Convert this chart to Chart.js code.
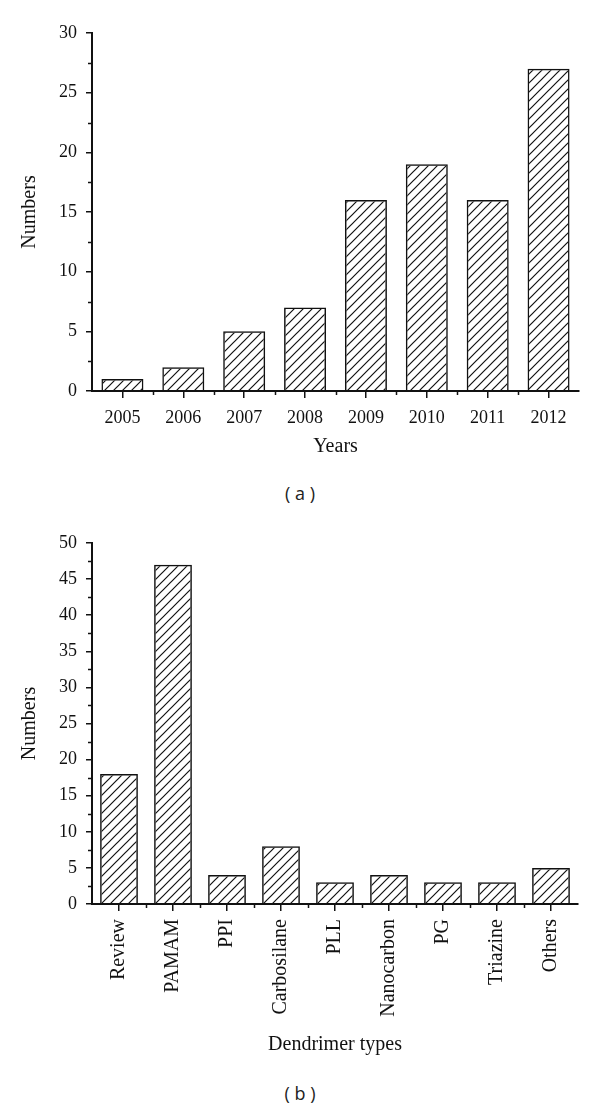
<!DOCTYPE html>
<html>
<head>
<meta charset="utf-8">
<script src="https://cdn.jsdelivr.net/npm/chart.js@4/dist/chart.umd.min.js"></script>
<style>
  html, body { margin: 0; padding: 0; background: #fff; }
  body { width: 600px; height: 1108px; position: relative; overflow: hidden; }
  .wrap { position: absolute; left: 0; width: 600px; }
  .cap { position: absolute; left: 0; width: 600px; text-align: center; font-family: "Open Sans", "DejaVu Sans", sans-serif; font-size: 18px; color: #222; }
</style>
</head>
<body>
<div class="wrap" style="top:0;height:470px"><canvas id="ca"></canvas></div>
<div class="cap" style="top:481px">( a )</div>
<div class="wrap" style="top:510px;height:560px"><canvas id="cb"></canvas></div>
<div class="cap" style="top:1081px">( b )</div>
<script>
// ---- data ----
const yearLabels = ["2005", "2006", "2007", "2008", "2009", "2010", "2011", "2012"];
const yearCounts = [1, 2, 5, 7, 16, 19, 16, 27];
const typeLabels = ["Review", "PAMAM", "PPI", "Carbosilane", "PLL", "Nanocarbon", "PG", "Triazine", "Others"];
const typeCounts = [18, 47, 4, 8, 3, 4, 3, 3, 5];
const yTicksA = { min: 0, max: 30, step: 5, minor: 2.5 };
const yTicksB = { min: 0, max: 50, step: 5, minor: 2.5 };

const SERIF = '"Liberation Serif", "DejaVu Serif", serif';

function hatch() {
  const s = 9;
  const c = document.createElement('canvas');
  c.width = s; c.height = s;
  const g = c.getContext('2d');
  g.strokeStyle = '#111';
  g.lineWidth = 1.2;
  g.beginPath();
  g.moveTo(-1, s + 1); g.lineTo(s + 1, -1);
  g.moveTo(-1, 1); g.lineTo(1, -1);
  g.moveTo(s - 1, s + 1); g.lineTo(s + 1, s - 1);
  g.stroke();
  return g.createPattern(c, 'repeat');
}

const minorTicks = {
  id: 'minorTicks',
  afterDraw(chart, args, opts) {
    const ctx = chart.ctx;
    const x = chart.scales.x, y = chart.scales.y;
    ctx.save();
    ctx.strokeStyle = '#111';
    ctx.lineWidth = 1.5;
    ctx.beginPath();
    for (let v = y.min + opts.minor; v < y.max; v += opts.minor) {
      if (Math.abs(v / opts.step - Math.round(v / opts.step)) < 1e-6) continue;
      const py = Math.round(y.getPixelForValue(v)) + 0.5;
      ctx.moveTo(x.left, py); ctx.lineTo(x.left - 4, py);
    }
    const n = chart.data.labels.length;
    for (let i = 0; i < n - 1; i++) {
      const px = Math.round(x.getPixelForValue(i + 0.5)) + 0.5;
      ctx.moveTo(px, y.bottom); ctx.lineTo(px, y.bottom + 4);
    }
    ctx.stroke();
    ctx.restore();
  }
};

function makeChart(id, labels, values, yt, opt) {
  return new Chart(document.getElementById(id), {
    type: 'bar',
    data: {
      labels: labels,
      datasets: [{
        data: values,
        backgroundColor: hatch(),
        borderColor: '#111',
        borderWidth: 1.5,
        categoryPercentage: 1,
        barPercentage: opt.barPct
      }]
    },
    options: {
      responsive: true,
      maintainAspectRatio: false,
      animation: false,
      events: [],
      layout: { padding: { top: 33, right: opt.right, left: 0, bottom: 0 } },
      plugins: {
        legend: { display: false },
        tooltip: { enabled: false },
        minorTicks: { minor: yt.minor, step: yt.step }
      },
      scales: {
        x: {
          offset: true,
          grid: { display: true, drawOnChartArea: false, drawTicks: true, tickLength: 7, offset: false, color: '#111', lineWidth: 1.5 },
          border: { display: true, color: '#111', width: 2 },
          ticks: {
            color: '#111', font: { family: SERIF, size: opt.xTickSize }, padding: opt.tickPad,
            autoSkip: false, minRotation: opt.rot, maxRotation: opt.rot
          },
          title: { display: true, text: opt.xTitle, color: '#111', font: { family: SERIF, size: 20 }, padding: { top: 0, bottom: opt.xTitlePad } },
          afterFit(s) { s.height = opt.xHeight; }
        },
        y: {
          min: yt.min, max: yt.max,
          grid: { display: true, drawOnChartArea: false, drawTicks: true, tickLength: 6, color: '#111', lineWidth: 1.5 },
          border: { display: true, color: '#111', width: 2 },
          ticks: { stepSize: yt.step, color: '#111', font: { family: SERIF, size: 18 }, padding: 9 },
          title: { display: true, text: 'Numbers', color: '#111', font: { family: SERIF, size: 20 }, padding: { top: 18, bottom: 0 } },
          afterFit(s) { s.width = 92; }
        }
      }
    },
    plugins: [minorTicks]
  });
}

makeChart('ca', yearLabels, yearCounts, yTicksA, { barPct: 0.69, right: 21, xHeight: 79, xTitle: 'Years', xTitlePad: 11, rot: 0, tickPad: 9, xTickSize: 18 });
makeChart('cb', typeLabels, typeCounts, yTicksB, { barPct: 0.7, right: 22, xHeight: 166, xTitle: 'Dendrimer types', xTitlePad: 13, rot: 90, tickPad: 8, xTickSize: 20 });
</script>
</body>
</html>
